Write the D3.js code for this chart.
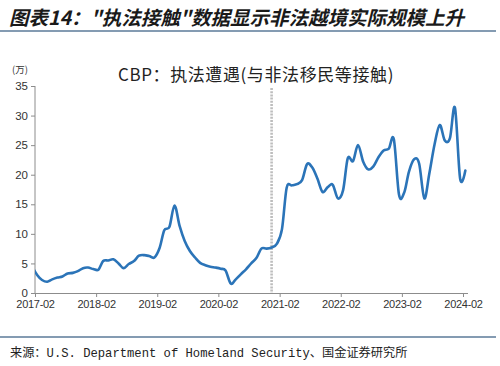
<!DOCTYPE html>
<html><head><meta charset="utf-8">
<script src="https://cdn.jsdelivr.net/npm/d3@7/dist/d3.min.js"></script>
<style>
html,body{margin:0;padding:0;background:#fff;}
svg{display:block;}
</style>
</head><body>
<script>
// ---- data ----
const months = [
 "2017-01","2017-02","2017-03","2017-04","2017-05","2017-06","2017-07","2017-08","2017-09","2017-10","2017-11","2017-12",
 "2018-01","2018-02","2018-03","2018-04","2018-05","2018-06","2018-07","2018-08","2018-09","2018-10","2018-11","2018-12",
 "2019-01","2019-02","2019-03","2019-04","2019-05","2019-06","2019-07","2019-08","2019-09","2019-10","2019-11","2019-12",
 "2020-01","2020-02","2020-03","2020-04","2020-05","2020-06","2020-07","2020-08","2020-09","2020-10","2020-11","2020-12",
 "2021-01","2021-02","2021-03","2021-04","2021-05","2021-06","2021-07","2021-08","2021-09","2021-10","2021-11","2021-12",
 "2022-01","2022-02","2022-03","2022-04","2022-05","2022-06","2022-07","2022-08","2022-09","2022-10","2022-11","2022-12",
 "2023-01","2023-02","2023-03","2023-04","2023-05","2023-06","2023-07","2023-08","2023-09","2023-10","2023-11","2023-12",
 "2024-01","2024-02"
];
const encounters = [ // 万人次
 4.5, 3.0, 2.2, 1.9, 2.3, 2.6, 2.8, 3.3, 3.4, 3.7, 4.2, 4.3,
 4.05, 3.95, 5.4, 5.5, 5.7, 5.0, 4.2, 4.9, 5.4, 6.3, 6.4, 6.25,
 6.0, 7.6, 10.6, 11.2, 14.8, 11.3, 8.8, 7.1, 6.0, 5.1, 4.7, 4.45,
 4.3, 4.1, 3.8, 1.6, 2.3, 3.2, 4.0, 5.0, 5.9, 7.5, 7.5, 7.7,
 8.3, 10.8, 17.8, 18.2, 18.4, 19.1, 21.8, 21.2, 19.3, 17.1, 17.9, 18.3,
 16.0, 17.4, 22.8, 22.3, 25.0, 22.2, 20.9, 21.4, 23.0, 24.1, 24.4, 26.0,
 16.6, 17.0, 20.5, 22.6, 21.9, 16.0, 20.2, 25.1, 28.4, 25.8, 26.2, 31.3,
 19.3, 20.7
];
const xTickLabels = ["2017-02","2018-02","2019-02","2020-02","2021-02","2022-02","2023-02","2024-02"];
const yTicks = [0,5,10,15,20,25,30,35];
const markerMonth = "2020-12"; // 虚线位置
const figTitle = "图表14：\"执法接触\"数据显示非法越境实际规模上升";
const chartTitle = "CBP：执法遭遇(与非法移民等接触)";
const unitLabel = "(万)";
const sourceText = "来源：U.S. Department of Homeland Security、国金证券研究所";

// ---- drawing ----
const W = 500, H = 366;
const svg = d3.select("body").append("svg").attr("width", W).attr("height", H);
const parseM = d3.timeParse("%Y-%m");
const midMonth = s => { const d = parseM(s); return new Date(d.getFullYear(), d.getMonth(), 15); };

const x = d3.scaleTime()
  .domain([parseM(xTickLabels[0]), parseM(xTickLabels[xTickLabels.length-1])])
  .range([35, 463]);
const y = d3.scaleLinear().domain([0, 35]).range([293, 86]);

const axisColor = "#8c8c8c";
const textColor = "#333";

// figure title
svg.append("text").attr("x", 9).attr("y", 25)
  .attr("font-family", "'Noto Sans CJK SC', sans-serif")
  .attr("font-size", 19.5).attr("font-weight", 700).attr("font-style", "italic")
  .attr("fill", "#1a1a1a").text(figTitle);
svg.append("line").attr("x1", 0).attr("x2", 496).attr("y1", 31).attr("y2", 31)
  .attr("stroke", "#5b7a99").attr("stroke-width", 1.4);

// chart title
svg.append("text").attr("x", 256).attr("y", 81).attr("text-anchor", "middle")
  .attr("font-family", "'Noto Sans CJK SC', sans-serif")
  .attr("font-size", 17).attr("letter-spacing", 0.6).attr("fill", "#222").text(chartTitle);

// unit
svg.append("text").attr("x", 12).attr("y", 73)
  .attr("font-family", "'Noto Sans CJK SC', sans-serif")
  .attr("font-size", 9.5).attr("fill", textColor).text(unitLabel);

// y axis
const yAxis = d3.axisLeft(y).tickValues(yTicks).tickSize(4).tickPadding(3);
const gy = svg.append("g").attr("transform", "translate(35,0)").call(yAxis);
gy.select(".domain").attr("stroke", axisColor).attr("d", `M0,${y(0)}V${y(35)}`);
gy.selectAll(".tick line").attr("stroke", axisColor);
gy.selectAll(".tick text").attr("fill", textColor)
  .attr("font-family", "'Liberation Sans', Arial, sans-serif").attr("font-size", 11.5);

// x axis
const xAxis = d3.axisBottom(x).tickValues(xTickLabels.map(parseM))
  .tickFormat(d3.timeFormat("%Y-%m")).tickSize(4).tickPadding(3);
const gx = svg.append("g").attr("transform", `translate(0,${y(0)})`).call(xAxis);
gx.select(".domain").attr("stroke", axisColor).attr("d", `M35,0.5H468`);
gx.selectAll(".tick line").attr("stroke", axisColor);
gx.selectAll(".tick text").attr("fill", textColor)
  .attr("font-family", "'Liberation Sans', Arial, sans-serif").attr("font-size", 11)
  .attr("letter-spacing", -0.3);

// marker dashed line
const mx = x(midMonth(markerMonth));
svg.append("line").attr("x1", mx).attr("x2", mx).attr("y1", y(35) + 2).attr("y2", y(0))
  .attr("stroke", "#bdbdbd").attr("stroke-width", 2.6).attr("stroke-dasharray", "2,1.2");

// clip
svg.append("clipPath").attr("id", "plotclip").append("rect")
  .attr("x", 35).attr("y", 60).attr("width", 440).attr("height", 240);

const pts = months.map((m, i) => ({ d: midMonth(m), v: encounters[i] }));
const line = d3.line().x(p => x(p.d)).y(p => y(p.v)).curve(d3.curveCardinal.tension(0));
svg.append("path").datum(pts).attr("clip-path", "url(#plotclip)")
  .attr("d", line).attr("fill", "none").attr("stroke", "#2b74b8")
  .attr("stroke-width", 2.6).attr("stroke-linejoin", "round").attr("stroke-linecap", "round");

// source
svg.append("line").attr("x1", 0).attr("x2", 496).attr("y1", 337).attr("y2", 337)
  .attr("stroke", "#5b7a99").attr("stroke-width", 1.4);
svg.append("text").attr("x", 10).attr("y", 357)
  .attr("font-family", "'Liberation Mono', 'Noto Sans CJK SC', monospace")
  .attr("font-size", 12.2).attr("fill", "#222").text(sourceText);
</script>
</body></html>
